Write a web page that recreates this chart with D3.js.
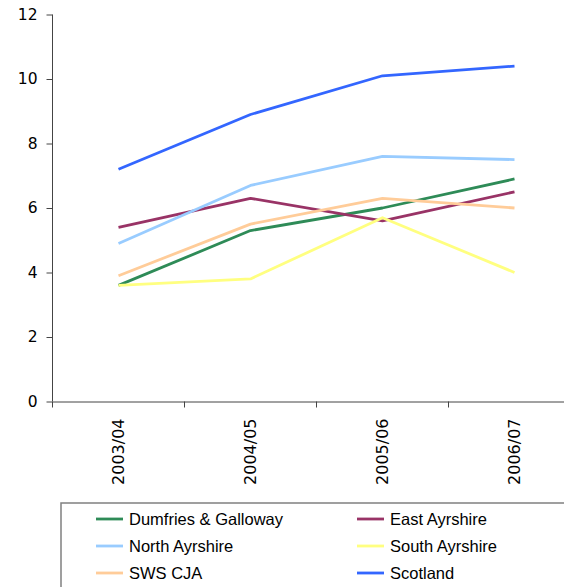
<!DOCTYPE html>
<html><head><meta charset="utf-8">
<script src="https://cdn.jsdelivr.net/npm/d3@7"></script>
<style>body{margin:0;background:#fff}svg{display:block}</style>
</head><body>
<script>
const categories = ["2003/04","2004/05","2005/06","2006/07"];
const seriesNames = ["Dumfries & Galloway","East Ayrshire","North Ayrshire","South Ayrshire","SWS CJA","Scotland"];
const dumfries = [3.6, 5.3, 6.0, 6.9];
const eastAyrshire = [5.4, 6.3, 5.6, 6.5];
const northAyrshire = [4.9, 6.7, 7.6, 7.5];
const southAyrshire = [3.6, 3.8, 5.7, 4.0];
const swsCja = [3.9, 5.5, 6.3, 6.0];
const scotland = [7.2, 8.9, 10.1, 10.4];
const yTicks = [0,2,4,6,8,10,12];

const seriesValues = [dumfries, eastAyrshire, northAyrshire, southAyrshire, swsCja, scotland];
const colors = ["#2e8b57","#993366","#99ccff","#ffff80","#ffcc99","#3366ff"];

const W = 564, H = 587;
const svg = d3.select("body").append("svg").attr("width", W).attr("height", H);

const x0 = 52.5, x1 = 580.5, y0 = 401.5, y1 = 14.5;
const x = d3.scaleBand().domain(categories).range([x0, x1]);
const y = d3.scaleLinear().domain([0, 12]).range([y0, y1]);

// y axis
const yAxis = svg.append("g").attr("transform", `translate(${x0},0)`)
  .call(d3.axisLeft(y).tickValues(yTicks).tickSize(6).tickPadding(9));
yAxis.select(".domain").attr("stroke", "#444").attr("d", `M0,${y0}V${y1}`);
yAxis.selectAll(".tick line").attr("stroke", "#444");
yAxis.selectAll("text").attr("font-family", "DejaVu Sans, Verdana, sans-serif").attr("font-size", 15.5).attr("fill", "#000");

// x axis
const xAxis = svg.append("g").attr("transform", `translate(0,${y0})`)
  .call(d3.axisBottom(x).tickSize(0).tickFormat(""));
xAxis.select(".domain").attr("stroke", "#444");
xAxis.selectAll(".tick").remove();
const bounds = categories.map(c => x(c)).concat([x1]);
xAxis.selectAll(".bt").data(bounds).enter().append("line")
  .attr("x1", d => d).attr("x2", d => d).attr("y1", 0).attr("y2", 6).attr("stroke", "#444");
xAxis.selectAll(".xl").data(categories).enter().append("text")
  .attr("transform", d => `translate(${x(d) + x.bandwidth()/2 + 5.5},17) rotate(-90)`)
  .attr("text-anchor", "end")
  .attr("font-family", "DejaVu Sans, Verdana, sans-serif").attr("font-size", 16).attr("fill", "#000")
  .text(d => d);

// lines
const line = d3.line().x((d, i) => x(categories[i]) + x.bandwidth()/2).y(d => y(d));
svg.append("g").selectAll("path").data(seriesValues).enter().append("path")
  .attr("d", d => line(d)).attr("fill", "none")
  .attr("stroke", (d, i) => colors[i]).attr("stroke-width", 2.8).attr("stroke-linejoin", "round");

// legend
svg.append("rect").attr("x", 61).attr("y", 503).attr("width", 520).attr("height", 100)
  .attr("fill", "#fff").attr("stroke", "#808080").attr("stroke-width", 1.5);
const lg = svg.append("g").selectAll("g").data(seriesNames).enter().append("g")
  .attr("transform", (d, i) => `translate(${i % 2 === 0 ? 96 : 357},${519 + Math.floor(i/2)*27})`);
lg.append("line").attr("x1", 0).attr("x2", 27).attr("y1", 0).attr("y2", 0)
  .attr("stroke", (d, i) => colors[i]).attr("stroke-width", 2.8);
lg.append("text").attr("x", 33).attr("y", 0).attr("dy", "0.35em")
  .attr("font-family", "Liberation Sans, Arial, sans-serif").attr("font-size", 16.5).attr("fill", "#000")
  .text(d => d);
</script>
</body></html>
